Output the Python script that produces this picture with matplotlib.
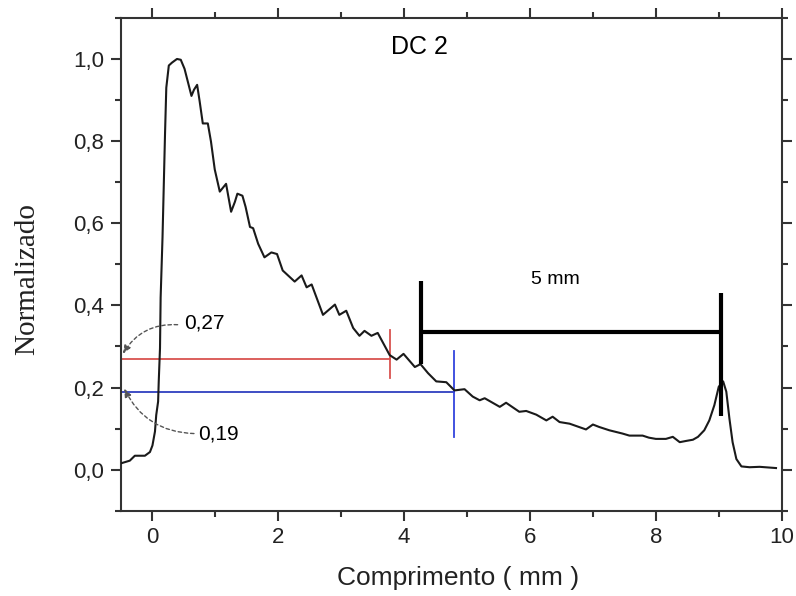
import matplotlib
matplotlib.use("Agg")
import matplotlib.pyplot as plt
from matplotlib.ticker import MultipleLocator, FuncFormatter

# Profile along the sample (length in mm, normalised intensity)
comprimento = [-0.49, -0.36, -0.28, -0.12, -0.04, 0.00, 0.04, 0.06, 0.09, 0.10,
               0.12, 0.13, 0.16, 0.20, 0.22, 0.26, 0.31, 0.39, 0.45, 0.51,
               0.56, 0.62, 0.66, 0.71, 0.75, 0.80, 0.88, 0.93, 0.99, 1.07,
               1.17, 1.25, 1.31, 1.35, 1.43, 1.48, 1.55, 1.60, 1.68, 1.78,
               1.89, 1.98, 2.07, 2.26, 2.37, 2.45, 2.53, 2.71, 2.90, 2.97,
               3.08, 3.19, 3.29, 3.37, 3.48, 3.58, 3.77, 3.88, 3.99, 4.17,
               4.26, 4.38, 4.51, 4.67, 4.80, 4.96, 5.09, 5.20, 5.28, 5.52,
               5.62, 5.83, 5.94, 6.10, 6.26, 6.36, 6.47, 6.63, 6.89, 7.00,
               7.10, 7.26, 7.47, 7.58, 7.79, 7.89, 8.00, 8.16, 8.27, 8.38,
               8.48, 8.59, 8.67, 8.77, 8.85, 8.93, 9.00, 9.07, 9.12, 9.17,
               9.22, 9.28, 9.36, 9.49, 9.65, 9.91]
normalizado = [0.016, 0.022, 0.034, 0.034, 0.043, 0.059, 0.093, 0.133, 0.166, 0.215,
               0.296, 0.419, 0.566, 0.819, 0.930, 0.984, 0.991, 1.000, 0.998, 0.976,
               0.946, 0.910, 0.925, 0.937, 0.897, 0.843, 0.843, 0.799, 0.731, 0.677,
               0.696, 0.628, 0.652, 0.672, 0.667, 0.640, 0.591, 0.588, 0.550, 0.517,
               0.529, 0.525, 0.485, 0.458, 0.473, 0.444, 0.451, 0.377, 0.402, 0.377,
               0.387, 0.345, 0.326, 0.338, 0.326, 0.333, 0.279, 0.268, 0.282, 0.250,
               0.257, 0.235, 0.215, 0.213, 0.193, 0.196, 0.178, 0.169, 0.174, 0.153,
               0.163, 0.141, 0.143, 0.134, 0.120, 0.129, 0.116, 0.112, 0.098, 0.110,
               0.104, 0.096, 0.088, 0.083, 0.083, 0.078, 0.075, 0.075, 0.080, 0.067,
               0.070, 0.073, 0.080, 0.096, 0.120, 0.157, 0.202, 0.215, 0.190, 0.124,
               0.067, 0.026, 0.008, 0.006, 0.007, 0.004]

# Threshold levels and where the profile crosses them
nivel_alto, x_alto = 0.27, 3.77
nivel_baixo, x_baixo = 0.19, 4.80
# 5 mm scale bar
barra_x = [4.26, 9.03]
barra_y = 0.336

sans = "Liberation Sans"
fig = plt.figure(figsize=(7.96, 5.96), dpi=100)
ax = fig.add_axes([0.152, 0.143, 0.830, 0.827])

ax.plot(comprimento, normalizado, color="#1a1a1a", lw=1.5, zorder=3)

# threshold lines with their crossing markers
ax.plot([-0.5, x_alto], [nivel_alto, nivel_alto], color="#d9534f", lw=1.3, zorder=2)
ax.plot([x_alto, x_alto], [0.223, 0.341], color="#d9534f", lw=1.3, zorder=2)
ax.plot([-0.5, x_baixo], [nivel_baixo, nivel_baixo], color="#2f3fbf", lw=1.3, zorder=2)
ax.plot([x_baixo, x_baixo], [0.08, 0.288], color="#3344dd", lw=1.3, zorder=2)

# scale bar
ax.plot(barra_x, [barra_y, barra_y], color="black", lw=3, solid_capstyle="butt", zorder=4)
ax.plot([barra_x[0], barra_x[0]], [0.257, 0.46], color="black", lw=3, solid_capstyle="butt", zorder=4)
ax.plot([barra_x[1], barra_x[1]], [0.131, 0.431], color="black", lw=3, solid_capstyle="butt", zorder=4)
ax.text(6.41, 0.463, "5 mm", fontsize=14, family=sans, ha="center", va="center")

# level annotations
arrow_kw = dict(arrowstyle="-|>,head_length=0.5,head_width=0.2", color="#555555",
                lw=1.0, linestyle=(0, (2.5, 2)), shrinkA=0, shrinkB=0)
ax.annotate("", xy=(-0.47, 0.282), xytext=(0.40, 0.353),
            arrowprops=dict(connectionstyle="arc3,rad=0.3", **arrow_kw))
ax.text(0.51, 0.357, "0,27", fontsize=15, family=sans, ha="left", va="center")
ax.annotate("", xy=(-0.45, 0.198), xytext=(0.66, 0.088),
            arrowprops=dict(connectionstyle="arc3,rad=-0.3", **arrow_kw))
ax.text(0.72, 0.088, "0,19", fontsize=15, family=sans, ha="left", va="center")

ax.text(4.25, 1.028, "DC 2", fontsize=18, family=sans, ha="center", va="center")

ax.set_xlim(-0.5, 10)
ax.set_ylim(-0.1, 1.1)
ax.xaxis.set_major_locator(MultipleLocator(2))
ax.xaxis.set_minor_locator(MultipleLocator(1))
ax.yaxis.set_major_locator(MultipleLocator(0.2))
ax.yaxis.set_minor_locator(MultipleLocator(0.1))
ax.xaxis.set_major_formatter(FuncFormatter(lambda v, p: f"{v:.0f}"))
ax.yaxis.set_major_formatter(FuncFormatter(lambda v, p: f"{v:.1f}".replace(".", ",")))

ax.tick_params(which="both", direction="out", top=True, right=True,
               color="#333333", width=1.5)
ax.tick_params(which="major", length=7, labelsize=16, labelcolor="#222222", pad=5)
ax.tick_params(which="minor", length=4)
for lab in ax.get_xticklabels() + ax.get_yticklabels():
    lab.set_family(sans)
for s in ax.spines.values():
    s.set_linewidth(1.5)
    s.set_color("#333333")

ax.set_xlabel("Comprimento ( mm )", fontsize=19, family=sans, color="#222222", va="center")
ax.set_ylabel("Normalizado", fontsize=21, family="Liberation Serif", color="#222222", va="center")
ax.yaxis.set_label_coords(-0.142, 0.47)
ax.xaxis.set_label_coords(0.51, -0.137)

fig.savefig("out.png", dpi=100)
